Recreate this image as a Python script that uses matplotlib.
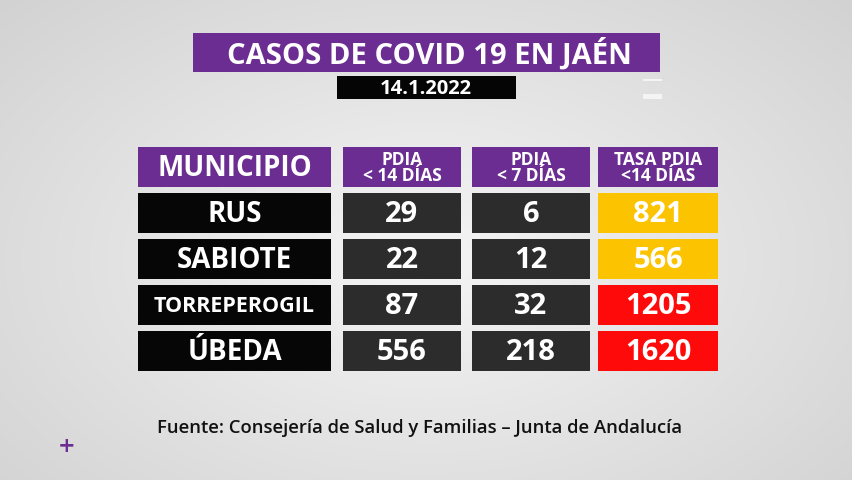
import matplotlib
matplotlib.use("Agg")
import matplotlib.pyplot as plt
from matplotlib.patches import Rectangle
import numpy as np

title = "CASOS DE COVID 19 EN JAÉN"
date = "14.1.2022"
headers = ["MUNICIPIO", "PDIA\n< 14 DÍAS", "PDIA\n< 7 DÍAS", "TASA PDIA\n<14 DÍAS"]
municipios = ["RUS", "SABIOTE", "TORREPEROGIL", "ÚBEDA"]
pdia14 = [29, 22, 87, 556]
pdia7 = [6, 12, 32, 218]
tasa = [821, 566, 1205, 1620]
source = "Fuente: Consejería de Salud y Familias – Junta de Andalucía"

PURPLE = "#6c2d92"
YELLOW = "#fbc300"
RED = "#ff0a0a"
FONT = "Open Sans"

fig = plt.figure(figsize=(8.53, 4.8), dpi=100)
ax = fig.add_axes([0, 0, 1, 1])
ax.set_xlim(0, 853); ax.set_ylim(480, 0); ax.axis("off")

yy, xx = np.mgrid[0:480, 0:853]
r = np.sqrt(((xx - 426) / 520) ** 2 + ((yy - 260) / 330) ** 2)
bg = np.clip(0.96 - 0.12 * r, 0.80, 0.96)
ax.imshow(np.dstack([bg] * 3), extent=(0, 853, 480, 0), zorder=0)

def box(x0, y0, x1, y1, color):
    ax.add_patch(Rectangle((x0, y0), x1 - x0, y1 - y0, color=color, zorder=1, lw=0))

def txt(x, y, s, size, color="white", ls=1.0):
    ax.text(x, y + 2, s, ha="center", va="center", fontsize=size, color=color,
            fontweight="bold", family=FONT, linespacing=ls, zorder=2)

box(193, 33, 660, 72, PURPLE)
txt(429, 52, title, 21)
box(337, 76, 516, 99, "#050505")
txt(426, 87, date, 14.5)

cols = [(138, 331), (343, 461), (472, 590), (598, 718)]
for i, (x0, x1) in enumerate(cols):
    box(x0, 147, x1, 187, PURPLE)
    if i == 0:
        txt((x0 + x1) / 2, 167, headers[i], 20)
    else:
        txt((x0 + x1) / 2, 166, headers[i], 12.5, ls=0.9)

for j, m in enumerate(municipios):
    y0 = 193 + j * 46
    y1 = y0 + 40
    yc = (y0 + y1) / 2
    box(138, y0, 331, y1, "#060606")
    txt(234.5, yc, m, 15.5 if len(m) > 10 else 20)
    box(343, y0, 461, y1, "#2c2c2c")
    txt(402, yc, str(pdia14[j]), 21)
    box(472, y0, 590, y1, "#2c2c2c")
    txt(531, yc, str(pdia7[j]), 21)
    c = RED if tasa[j] > 1000 else YELLOW
    box(598, y0, 718, y1, c)
    txt(658, yc, str(tasa[j]), 21)

ax.text(420, 428, source, ha="center", va="center", fontsize=13.3,
        color="#111111", family=FONT, fontweight="semibold", zorder=2)
ax.text(67, 446, "+", ha="center", va="center", fontsize=15, color=PURPLE,
        fontweight="bold", zorder=2)
box(643, 79, 662, 81, "#f4f4f4")
box(643, 94, 662, 99, "#f4f4f4")

fig.savefig("out.png", dpi=100)
